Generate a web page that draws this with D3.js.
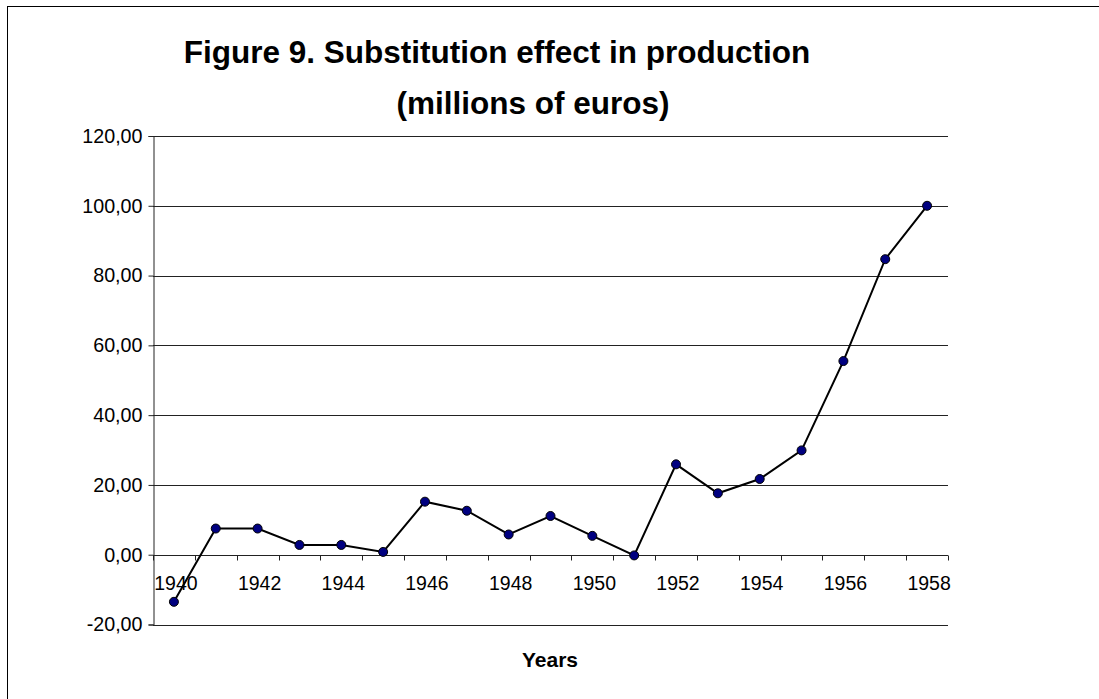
<!DOCTYPE html>
<html>
<head>
<meta charset="utf-8">
<script src="https://cdn.jsdelivr.net/npm/d3@7"></script>
<style>
  body { margin: 0; background: #fff; overflow: hidden; }
  svg { display: block; }
  text { font-family: "Liberation Sans", Arial, sans-serif; fill: #000; }
</style>
</head>
<body>
<svg id="chart"></svg>
<script>
// values
var years = ["1940","1941","1942","1943","1944","1945","1946","1947","1948","1949",
             "1950","1951","1952","1953","1954","1955","1956","1957","1958"];
var values = [-13.5, 7.5, 7.5, 2.8, 2.8, 0.8, 15.2, 12.6, 5.8, 11.1,
              5.4, -0.2, 25.9, 17.6, 21.7, 29.9, 55.5, 84.7, 100.0];
var yTicks = [-20, 0, 20, 40, 60, 80, 100, 120];
var titleLines = ["Figure 9. Substitution effect in production", "(millions of euros)"];
var xTitle = "Years";

var width = 1099;
var height = 699;

var plot = {left: 153, right: 948, top: 136, bottom: 624.5};

var svg = d3.select("#chart").attr("width", width).attr("height", height);

// outer frame (right/bottom edges run off the picture)
svg.append("rect")
  .attr("x", 7.5).attr("y", 6.5)
  .attr("width", 1300).attr("height", 900)
  .attr("fill", "none").attr("stroke", "#000").attr("stroke-width", 1);

var x = d3.scaleBand().domain(years).range([plot.left, plot.right]);
var y = d3.scaleLinear().domain([-20, 120]).range([plot.bottom, plot.top]);

// excel style: comma decimals, plain hyphen for negatives
function fmt(v) { return v.toFixed(2).replace(".", ","); }

// horizontal gridlines (all but zero, which is the category axis)
svg.append("g").selectAll("line")
  .data(yTicks.filter(d => d !== 0))
  .join("line")
  .attr("x1", plot.left).attr("x2", plot.right)
  .attr("y1", d => Math.round(y(d)) + 0.5).attr("y2", d => Math.round(y(d)) + 0.5)
  .attr("stroke", "#222").attr("stroke-width", 1);

// value axis
var yAxis = svg.append("g")
  .attr("transform", `translate(${plot.left + 0.5},0)`)
  .call(d3.axisLeft(y).tickValues(yTicks).tickFormat(fmt).tickSize(5).tickPadding(6));
yAxis.attr("font-size", null).attr("font-family", null);
yAxis.select(".domain").attr("stroke", "#222");
yAxis.selectAll(".tick line").attr("stroke", "#222");
yAxis.selectAll(".tick text")
  .style("font-size", "19.7px")
  .attr("fill", "#000");

// category axis sits at value 0
var y0 = Math.round(y(0)) + 0.5;
var xg = svg.append("g");
xg.append("line")
  .attr("x1", plot.left).attr("x2", plot.right)
  .attr("y1", y0).attr("y2", y0)
  .attr("stroke", "#222");
var bounds = d3.range(years.length + 1).map(i => plot.left + i * x.step());
xg.selectAll("line.tk")
  .data(bounds)
  .join("line").attr("class", "tk")
  .attr("x1", d => Math.round(d) + 0.5).attr("x2", d => Math.round(d) + 0.5)
  .attr("y1", y0).attr("y2", y0 + 5)
  .attr("stroke", "#222");
xg.selectAll("text")
  .data(years.filter((d, i) => i % 2 === 0))
  .join("text")
  .attr("x", d => x(d) + x.bandwidth() / 2 + 2)
  .attr("y", 590)
  .attr("text-anchor", "middle")
  .style("font-size", "19.5px")
  .text(d => d);

// series
var pts = years.map((d, i) => ({year: d, v: values[i]}));
var line = d3.line()
  .x(d => x(d.year) + x.bandwidth() / 2)
  .y(d => y(d.v));

svg.append("path")
  .datum(pts)
  .attr("d", line)
  .attr("fill", "none")
  .attr("stroke", "#000")
  .attr("stroke-width", 2);

svg.append("g").selectAll("circle")
  .data(pts)
  .join("circle")
  .attr("cx", d => x(d.year) + x.bandwidth() / 2)
  .attr("cy", d => y(d.v))
  .attr("r", 4.5)
  .attr("fill", "#000080")
  .attr("stroke", "#000")
  .attr("stroke-width", 1);

// titles (second line sits a bit right of the first, as in the original)
var titleX = [497, 533];
svg.append("g").selectAll("text")
  .data(titleLines)
  .join("text")
  .attr("x", (d, i) => titleX[i])
  .attr("y", (d, i) => 63 + i * 51)
  .attr("text-anchor", "middle")
  .style("font-size", "31.5px")
  .attr("font-weight", "bold")
  .text(d => d);

svg.append("text")
  .attr("x", 550).attr("y", 667)
  .attr("text-anchor", "middle")
  .style("font-size", "21px")
  .attr("font-weight", "bold")
  .text(xTitle);
</script>
</body>
</html>
